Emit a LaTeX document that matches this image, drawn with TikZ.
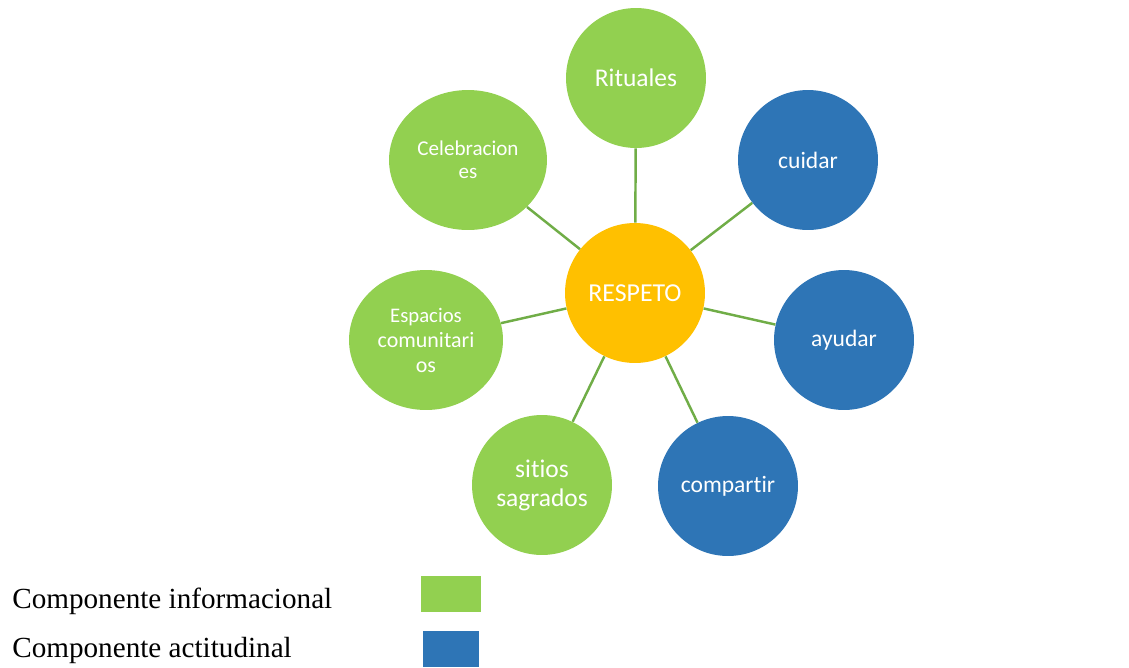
\documentclass[tikz,border=0pt]{standalone}
\usepackage{fontspec}
\setmainfont{Liberation Serif}
\newfontfamily\calibri[Ligatures=NoCommon]{Carlito}
\usepackage{xcolor}
\usetikzlibrary{shapes.geometric}
\definecolor{infocol}{HTML}{92D050}
\definecolor{actcol}{HTML}{2E75B6}
\definecolor{corecol}{HTML}{FFC000}
\definecolor{linkcol}{HTML}{70AD47}

\begin{document}
\begin{tikzpicture}[
  x=0.02cm, y=-0.02cm,
  core/.style={circle, fill=corecol, minimum size=2.8cm, inner sep=0pt, align=center, text=white, font=\calibri\fontsize{14.7}{17}\selectfont},
  info/.style={circle, fill=infocol, minimum size=2.8cm, inner sep=0pt, align=center, text=white, font=\calibri\fontsize{14.5}{16.5}\selectfont},
  infoell/.style={ellipse, fill=infocol, minimum height=2.8cm, inner sep=0pt, align=center, text=white},
  act/.style={circle, fill=actcol, minimum size=2.8cm, inner sep=0pt, align=center, text=white, font=\calibri\fontsize{13.4}{16}\selectfont},
  link/.style={draw=linkcol, line width=1.4pt},
  swatch/.style={minimum height=0.72cm, inner sep=0pt},
  legtext/.style={anchor=base west, inner sep=0pt, font=\fontsize{16.6}{20}\selectfont},
]
\useasboundingbox (0,0) rectangle (1129,667);

% Centre
\node[core] (respeto) at (635,293) {RESPETO};

% Informational component
\node[info] (rituales) at (636,78) {Rituales};
\node[infoell, minimum width=3.16cm, font=\calibri\fontsize{12}{13}\selectfont] (celebr) at (468,160) {Celebracion\\es};
\node[infoell, minimum width=3.08cm, font=\calibri\fontsize{12.5}{14.2}\selectfont] (espacios) at (426,340) {{\fontsize{11.8}{14.2}\selectfont Espacios}\\comunitari\\os};
\node[info] (sitios) at (542,485) {sitios\\sagrados};

% Attitudinal component
\node[act] (cuidar) at (808,160) {cuidar};
\node[act] (ayudar) at (844,340) {ayudar};
\node[act] (compartir) at (728,486) {compartir};

% Links
\foreach \n in {rituales, celebr, espacios, sitios, cuidar, ayudar, compartir}
  \draw[link] (respeto) -- (\n);

% Legend
\node[legtext] (leginfo) at (12,608) {Componente informacional};
\node[legtext] (legact) at (12,657) {Componente actitudinal};
\node[swatch, fill=infocol, minimum width=1.2cm] (swinfo) at (451,594) {};
\node[swatch, fill=actcol, minimum width=1.12cm] (swact) at (450.5,649) {};

\end{tikzpicture}
\end{document}
